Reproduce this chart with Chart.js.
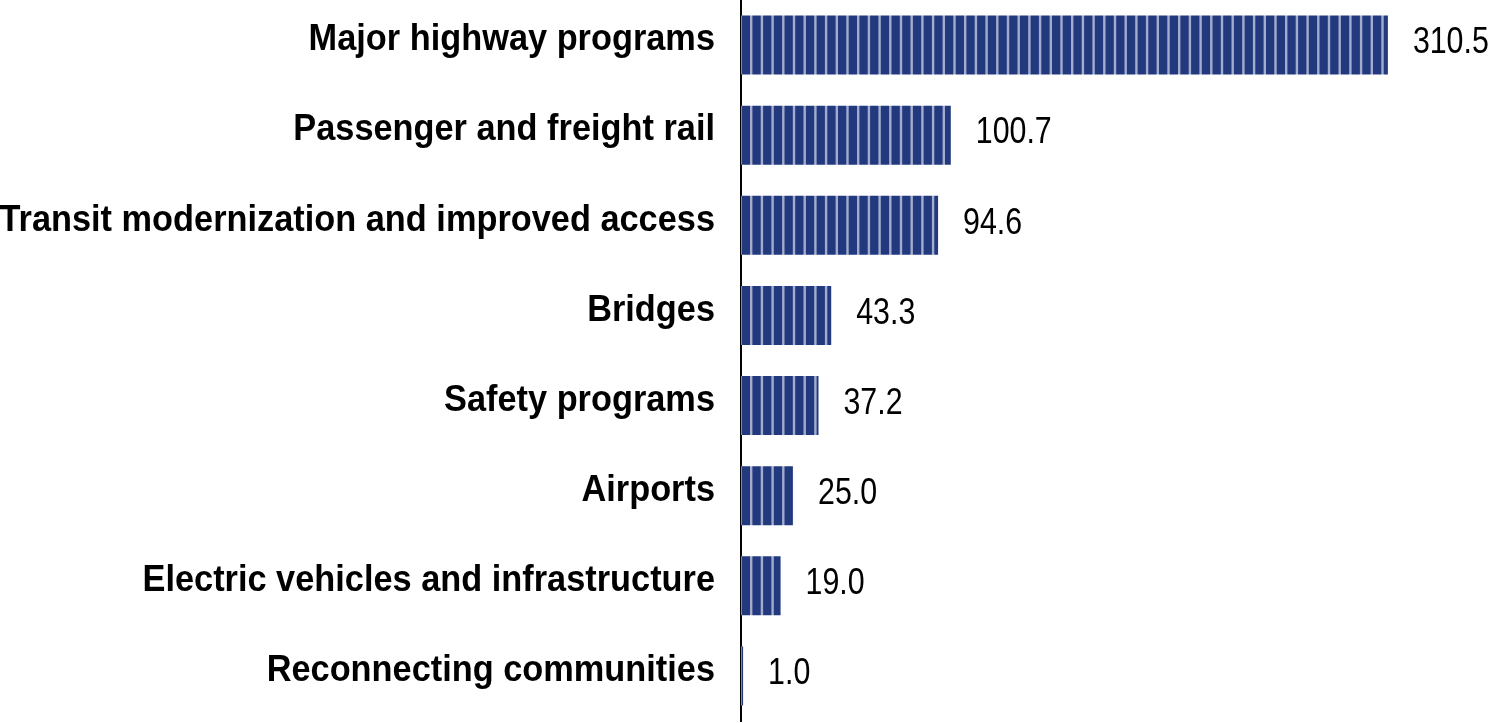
<!DOCTYPE html>
<html>
<head>
<meta charset="utf-8">
<script src="https://cdn.jsdelivr.net/npm/chart.js@4"></script>
<style>
  html, body { margin: 0; padding: 0; background: #fff; }
  #wrap { width: 1491px; height: 723px; position: relative; }
</style>
</head>
<body>
<div id="wrap"><canvas id="chart"></canvas></div>
<script>
const categories = [
  "Major highway programs",
  "Passenger and freight rail",
  "Transit modernization and improved access",
  "Bridges",
  "Safety programs",
  "Airports",
  "Electric vehicles and infrastructure",
  "Reconnecting communities",
];
const values = [310.5, 100.7, 94.6, 43.3, 37.2, 25.0, 19.0, 1.0];

const FONT = "'Liberation Sans', Arial, sans-serif";

// striped fill: navy with thin light vertical lines every ~10.7px
function makeStripes() {
  const c = document.createElement("canvas");
  c.width = 107;
  c.height = 10;
  const g = c.getContext("2d");
  g.fillStyle = "#22397e";
  g.fillRect(0, 0, c.width, c.height);
  g.fillStyle = "#a3abcf";
  for (let i = 0; i < 10; i++) {
    g.fillRect(1.0 + i * 10.7, 0, 2.4, c.height);
  }
  return g.createPattern(c, "repeat");
}

// category names left of the axis and values right of each bar,
// squeezed horizontally to mimic the narrow face of the original
const textLabels = {
  id: "textLabels",
  afterDatasetsDraw(chart) {
    const ctx = chart.ctx;
    const yScale = chart.scales.y;
    const meta = chart.getDatasetMeta(0);
    ctx.save();
    ctx.fillStyle = "#000";
    ctx.textBaseline = "middle";

    ctx.font = "bold 37px " + FONT;
    ctx.textAlign = "right";
    categories.forEach((name, i) => {
      const y = yScale.getPixelForValue(i);
      ctx.save();
      ctx.translate(yScale.right - 26, y - 5);
      ctx.scale(0.928, 1);
      ctx.fillText(name, 0, 0);
      ctx.restore();
    });

    ctx.font = "37px " + FONT;
    ctx.textAlign = "left";
    meta.data.forEach((bar, i) => {
      ctx.save();
      ctx.translate(bar.x + 25, bar.y - 2);
      ctx.scale(0.82, 1);
      ctx.fillText(values[i].toFixed(1), 0, 0);
      ctx.restore();
    });
    ctx.restore();
  },
};

const ctx = document.getElementById("chart").getContext("2d");
new Chart(ctx, {
  type: "bar",
  data: {
    labels: categories,
    datasets: [
      {
        data: values,
        backgroundColor: makeStripes(),
        borderWidth: 0,
        barPercentage: 0.655,
        categoryPercentage: 1,
      },
    ],
  },
  options: {
    indexAxis: "y",
    responsive: true,
    maintainAspectRatio: false,
    animation: false,
    layout: { padding: { top: 0, bottom: 2, left: 0, right: 0 } },
    plugins: {
      legend: { display: false },
      tooltip: { enabled: false },
    },
    scales: {
      x: {
        display: false,
        min: 0,
        max: 360,
      },
      y: {
        afterFit(scale) {
          scale.width = 741;
        },
        grid: { display: false, drawTicks: false },
        border: { display: true, color: "#000", width: 2 },
        ticks: { display: false },
      },
    },
  },
  plugins: [textLabels],
});
</script>
</body>
</html>
